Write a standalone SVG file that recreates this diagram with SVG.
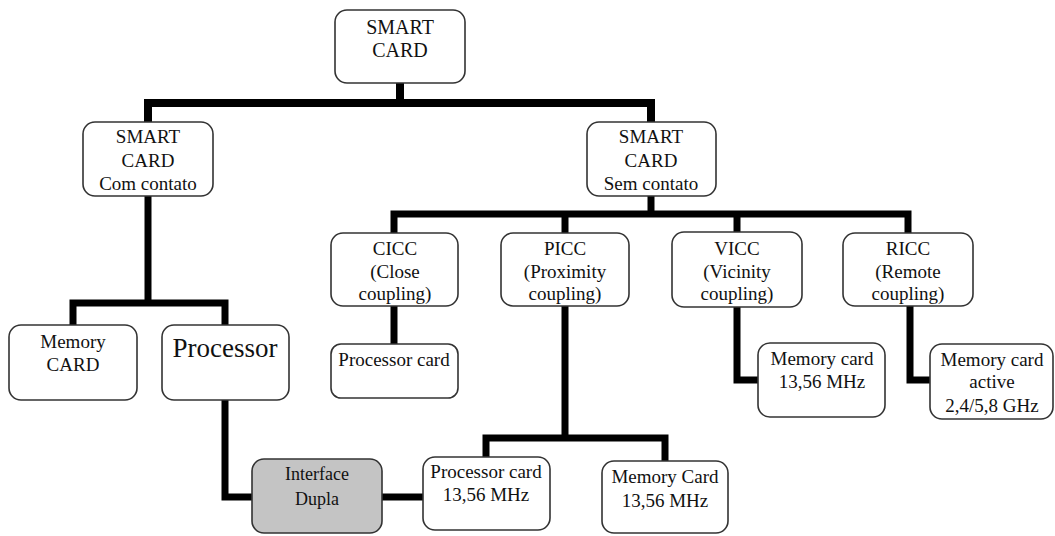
<svg xmlns="http://www.w3.org/2000/svg" width="1055" height="536" viewBox="0 0 1055 536">
  <style>
    .box { fill: #ffffff; stroke: #333333; stroke-width: 1.6; }
    .gray { fill: #c4c4c4; }
    .lbl { font-size: 19px; fill: #111111; text-anchor: middle; }
    .big { font-size: 27px; }
    .link { fill: none; stroke: #000000; stroke-width: 7; stroke-linejoin: miter; stroke-linecap: butt; }
  </style>
  <rect width="1055" height="536" fill="#ffffff"/>

  <!-- connectors -->
  <g id="connectors">
    <path class="link" d="M400,83 V103" style="stroke-width:8"/>
    <path class="link" d="M148,122 V103 H651 V122" style="stroke-width:8"/>
    <path class="link" d="M148,196 V303"/>
    <path class="link" d="M73,325 V303 H225 V325"/>
    <path class="link" d="M651,196 V214"/>
    <path class="link" d="M394,233 V214 H908 V233"/>
    <path class="link" d="M565,214 V233"/>
    <path class="link" d="M737,214 V232"/>
    <path class="link" d="M394,306 V344"/>
    <path class="link" d="M565,306 V438"/>
    <path class="link" d="M486,457 V438 H665 V461"/>
    <path class="link" d="M737,307 V380 H758"/>
    <path class="link" d="M910,306 V380 H930"/>
    <path class="link" d="M225,400 V497 H252"/>
    <path class="link" d="M382,497 H423"/>
  </g>

  <g id="nodes" font-family="Liberation Serif, Times New Roman, serif">
  <g id="smart-card">
    <rect class="box" x="335" y="10" width="130" height="73" rx="12"/>
    <text class="lbl" x="400" y="34" style="font-size:20px">SMART</text>
    <text class="lbl" x="400" y="57" style="font-size:20px">CARD</text>
  </g>

  <g id="com-contato">
    <rect class="box" x="83" y="122" width="130" height="74" rx="12"/>
    <text class="lbl" x="148" y="143">SMART</text>
    <text class="lbl" x="148" y="167">CARD</text>
    <text class="lbl" x="148" y="190">Com contato</text>
  </g>

  <g id="sem-contato">
    <rect class="box" x="587" y="122" width="129" height="74" rx="12"/>
    <text class="lbl" x="651" y="143">SMART</text>
    <text class="lbl" x="651" y="167">CARD</text>
    <text class="lbl" x="651" y="190">Sem contato</text>
  </g>

  <g id="memory-card">
    <rect class="box" x="9" y="325" width="128" height="75" rx="12"/>
    <text class="lbl" x="73" y="348">Memory</text>
    <text class="lbl" x="73" y="371">CARD</text>
  </g>

  <g id="processor">
    <rect class="box" x="162" y="325" width="127" height="75" rx="12"/>
    <text class="lbl big" x="225" y="357">Processor</text>
  </g>

  <g id="cicc">
    <rect class="box" x="331" y="233" width="127" height="73" rx="12"/>
    <text class="lbl" x="395" y="255">CICC</text>
    <text class="lbl" x="395" y="278">(Close</text>
    <text class="lbl" x="395" y="300">coupling)</text>
  </g>

  <g id="picc">
    <rect class="box" x="501" y="233" width="128" height="73" rx="12"/>
    <text class="lbl" x="565" y="255">PICC</text>
    <text class="lbl" x="565" y="278">(Proximity</text>
    <text class="lbl" x="565" y="300">coupling)</text>
  </g>

  <g id="vicc">
    <rect class="box" x="672" y="232" width="130" height="75" rx="12"/>
    <text class="lbl" x="737" y="255">VICC</text>
    <text class="lbl" x="737" y="278">(Vicinity</text>
    <text class="lbl" x="737" y="300">coupling)</text>
  </g>

  <g id="ricc">
    <rect class="box" x="843" y="233" width="130" height="73" rx="12"/>
    <text class="lbl" x="908" y="255">RICC</text>
    <text class="lbl" x="908" y="278">(Remote</text>
    <text class="lbl" x="908" y="300">coupling)</text>
  </g>

  <g id="cicc-processor-card">
    <rect class="box" x="331" y="344" width="127" height="54" rx="10"/>
    <text class="lbl" x="394" y="366">Processor card</text>
  </g>

  <g id="vicc-memory-card">
    <rect class="box" x="758" y="343" width="127" height="74" rx="12"/>
    <text class="lbl" x="822" y="365">Memory card</text>
    <text class="lbl" x="822" y="388">13,56 MHz</text>
  </g>

  <g id="ricc-memory-card">
    <rect class="box" x="930" y="344" width="123" height="75" rx="12"/>
    <text class="lbl" x="992" y="366">Memory card</text>
    <text class="lbl" x="992" y="388">active</text>
    <text class="lbl" x="992" y="412">2,4/5,8 GHz</text>
  </g>

  <g id="interface-dupla">
    <rect class="box gray" x="252" y="459" width="130" height="74" rx="12"/>
    <text class="lbl" x="317" y="480" style="font-size:18px">Interface</text>
    <text class="lbl" x="317" y="505" style="font-size:18px">Dupla</text>
  </g>

  <g id="picc-processor-card">
    <rect class="box" x="423" y="457" width="127" height="73" rx="12"/>
    <text class="lbl" x="486" y="478">Processor card</text>
    <text class="lbl" x="486" y="501">13,56 MHz</text>
  </g>

  <g id="picc-memory-card">
    <rect class="box" x="602" y="461" width="126" height="72" rx="12"/>
    <text class="lbl" x="665" y="483">Memory Card</text>
    <text class="lbl" x="665" y="507">13,56 MHz</text>
  </g>
  </g>
</svg>
